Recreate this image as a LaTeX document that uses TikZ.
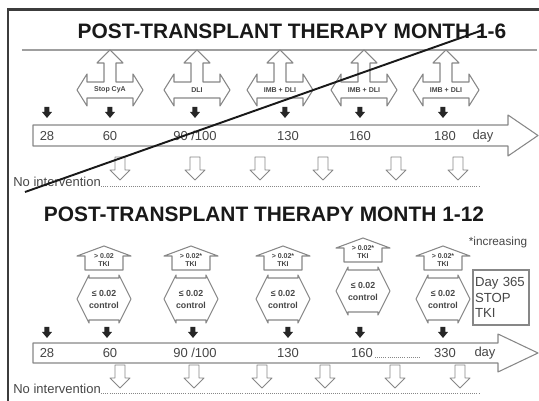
\documentclass[tikz,border=0pt]{standalone}
\usepackage{fontspec}
\setmainfont{Liberation Sans}
\usepackage{xcolor}
\usepackage{tikz}
\definecolor{framegray}{RGB}{60,60,60}
\definecolor{shapegray}{RGB}{135,135,135}
\definecolor{textgray}{RGB}{70,70,70}
\tikzset{
    shapeline/.style={
        draw=shapegray,
        line width=0.6pt,
        fill=white,
        line join=round
    },
    titletext/.style={
        font=\fontsize{11.9}{14}\selectfont\bfseries,
        text=black!90,
        inner sep=0pt
    },
    tinytext/.style={
        font=\fontsize{4}{4.5}\selectfont\bfseries,
        text=textgray,
        inner sep=0pt
    },
    smalltext/.style={
        font=\fontsize{5}{6}\selectfont\bfseries,
        text=textgray,
        inner sep=0pt
    },
    daytext/.style={
        font=\fontsize{7.4}{9}\selectfont,
        text=textgray,
        inner sep=0pt
    },
    dotline/.style={
        draw=shapegray,
        line width=0.5pt,
        dash pattern=on 0.5pt off 0.7pt
    },
    triarrow/.pic={
        \draw[shapeline] (0,-40) -- (13,-27) -- (6,-27) -- (6,-8) -- (23,-8) -- (23,-16)
            -- (33,0) -- (23,16) -- (23,8) -- (-23,8) -- (-23,16) -- (-33,0)
            -- (-23,-16) -- (-23,-8) -- (-6,-8) -- (-6,-27) -- (-13,-27) -- cycle;
        \node[tinytext] (-txt) at (0,0) {#1};
    },
    tkiarrow/.pic={
        % roof
        \draw[shapeline] (0,-53) -- (27,-43) -- (19,-43) -- (19,-29) -- (-19,-29)
            -- (-19,-43) -- (-27,-43) -- cycle;
        \node[tinytext] (-hi) at (0,-43) {#1};
        \node[tinytext] (-tki) at (0,-35) {TKI};
        % double arrow
        \draw[shapeline] (-15,-21) -- (15,-21) -- (15,-24) -- (27,0) -- (15,24) -- (15,21)
            -- (-15,21) -- (-15,24) -- (-27,0) -- (-15,-24) -- cycle;
        \node[smalltext] (-lo) at (0,-6) {≤ 0.02};
        \node[smalltext] (-ctl) at (0,6) {control};
    },
    blackdown/.pic={
        \fill[black!85] (-2.5,0) -- (2.5,0) -- (2.5,5) -- (5,5) -- (0,11) -- (-5,5) -- (-2.5,5) -- cycle;
    },
    hollowdown/.pic={
        \draw[shapeline, line width=0.5pt] (-5,0) -- (5,0) -- (5,13) -- (10,13) -- (0,23)
            -- (-10,13) -- (-5,13) -- cycle;
    }
}

\begin{document}
\begin{tikzpicture}[x=0.02cm, y=-0.02cm]
\useasboundingbox (0,0) rectangle (539,401);
% frame
\draw[framegray, line width=1.3pt] (8,401) -- (8,9.5) -- (539,9.5);

% month 1-6
\node[titletext] (title-a) at (292,31) {POST-TRANSPLANT THERAPY MONTH 1-6};
\draw[shapegray!80, line width=0.6pt] (22,50) -- (537,50);
\foreach \px/\lbl [count=\i] in {110/Stop CyA, 197/DLI, 280/IMB + DLI, 364/IMB + DLI, 446/IMB + DLI}
    \pic (top\i) at (\px,90) {triarrow=\lbl};
\foreach \px in {47,110,195,285,360,443}
    \pic at (\px,107) {blackdown};
\draw[shapeline] (33,125) -- (508,125) -- (508,115) -- (538,135.5) -- (508,156) -- (508,146) -- (33,146) -- cycle;
\foreach \px/\lbl [count=\i] in {47/28, 110/60, 195/{90 /100}, 288/130, 360/160, 445/180, 483/day}
    \node[daytext] (ta-\i) at (\px,136) {\lbl};
\foreach \px in {120,195,260,323,396,458}
    \pic at (\px,157) {hollowdown};
\node[daytext, anchor=west] (noint-a) at (13,182) {No intervention};
\coordinate (dots-a) at (480,185);
\draw[dotline] (noint-a.base east) -- (dots-a |- noint-a.base east);

% strike-out line
\coordinate (strike-start) at (25,192);
\coordinate (strike-end) at (483,30);
\draw[black!90, line width=1.1pt] (strike-start) -- (strike-end);

% month 1-12
\node[titletext] (title-b) at (264,214) {POST-TRANSPLANT THERAPY MONTH 1-12};
\node[font=\fontsize{6.7}{8}\selectfont, text=textgray, inner sep=0pt] (incr) at (498,242) {*increasing};
\foreach \px/\py/\lbl [count=\i] in {104/299/{> 0.02}, 191/299/{> 0.02*}, 283/299/{> 0.02*}, 363/291/{> 0.02*}, 443/299/{> 0.02*}}
    \pic (bot\i) at (\px,\py) {tkiarrow=\lbl};
\node[draw=shapegray, line width=0.6pt, minimum width=1.12cm, minimum height=1.1cm,
      text width=1.04cm, inner xsep=0.04cm, align=left,
      font=\fontsize{7.5}{8.8}\selectfont, text=textgray] (stop-tki) at (501,297.5) {Day 365\\STOP\\TKI};
\foreach \px in {47,107,193,288,360,443}
    \pic at (\px,327) {blackdown};
\draw[shapeline] (33,343) -- (498,343) -- (498,334) -- (538,353) -- (498,372) -- (498,363) -- (33,363) -- cycle;
\foreach \px/\lbl [count=\i] in {47/28, 110/60, 195/{90 /100}, 288/130, 362/160, 445/330, 485/day}
    \node[daytext] (tb-\i) at (\px,353) {\lbl};
\draw[dotline] ([xshift=1pt]tb-5.base east) -- ([xshift=-8pt]tb-6.base west);
\foreach \px in {120,194,262,325,395,460}
    \pic at (\px,365) {hollowdown};
\node[daytext, anchor=west] (noint-b) at (13,389) {No intervention};
\coordinate (dots-b) at (480,392);
\draw[dotline] (noint-b.base east) -- (dots-b |- noint-b.base east);
\end{tikzpicture}
\end{document}
